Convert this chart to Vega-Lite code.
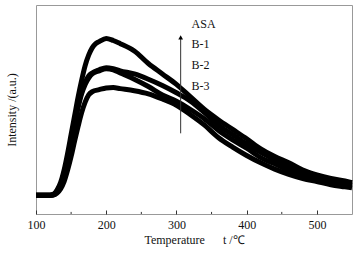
{
  "$schema": "https://vega.github.io/schema/vega-lite/v6.json",
  "width": 316,
  "height": 209,
  "autosize": {"type": "none"},
  "padding": {"left": 36, "top": 5, "right": 8, "bottom": 40},
  "background": "white",
  "config": {
    "view": {"stroke": "#999999", "strokeWidth": 1},
    "font": "Liberation Serif",
    "axis": {"labelFont": "Liberation Serif", "titleFont": "Liberation Serif", "labelColor": "#111", "titleColor": "#111", "titleFontWeight": "normal"}
  },
  "datasets": {
    "curves": [
      {"T":100,"s":"ASA","v":9},{"T":110,"s":"ASA","v":9},{"T":120,"s":"ASA","v":9},{"T":125,"s":"ASA","v":9.5},{"T":130,"s":"ASA","v":11.5},{"T":135,"s":"ASA","v":15},{"T":140,"s":"ASA","v":21},{"T":145,"s":"ASA","v":29},{"T":150,"s":"ASA","v":38},{"T":155,"s":"ASA","v":47},{"T":160,"s":"ASA","v":56},{"T":165,"s":"ASA","v":64},{"T":170,"s":"ASA","v":71},{"T":175,"s":"ASA","v":76},{"T":180,"s":"ASA","v":79.5},{"T":185,"s":"ASA","v":81.5},{"T":190,"s":"ASA","v":82.5},{"T":200,"s":"ASA","v":84},{"T":210,"s":"ASA","v":83},{"T":220,"s":"ASA","v":81.5},{"T":240,"s":"ASA","v":78},{"T":260,"s":"ASA","v":72},{"T":280,"s":"ASA","v":67},{"T":300,"s":"ASA","v":62},{"T":320,"s":"ASA","v":56},{"T":340,"s":"ASA","v":50},{"T":360,"s":"ASA","v":45},{"T":380,"s":"ASA","v":40.5},{"T":400,"s":"ASA","v":36},{"T":420,"s":"ASA","v":31.2},{"T":440,"s":"ASA","v":27.5},{"T":460,"s":"ASA","v":24.5},{"T":480,"s":"ASA","v":21},{"T":500,"s":"ASA","v":18.7},{"T":520,"s":"ASA","v":17},{"T":540,"s":"ASA","v":15.8},{"T":550,"s":"ASA","v":15},
      {"T":100,"s":"B-1","v":9},{"T":110,"s":"B-1","v":9},{"T":120,"s":"B-1","v":9},{"T":125,"s":"B-1","v":9.3},{"T":130,"s":"B-1","v":11},{"T":135,"s":"B-1","v":14},{"T":140,"s":"B-1","v":19.5},{"T":145,"s":"B-1","v":27},{"T":150,"s":"B-1","v":35.5},{"T":155,"s":"B-1","v":44},{"T":160,"s":"B-1","v":52},{"T":165,"s":"B-1","v":58.5},{"T":170,"s":"B-1","v":63},{"T":175,"s":"B-1","v":66},{"T":180,"s":"B-1","v":67.5},{"T":190,"s":"B-1","v":69},{"T":200,"s":"B-1","v":70},{"T":210,"s":"B-1","v":69.5},{"T":220,"s":"B-1","v":68.5},{"T":240,"s":"B-1","v":67},{"T":260,"s":"B-1","v":64.5},{"T":280,"s":"B-1","v":61.5},{"T":300,"s":"B-1","v":58},{"T":320,"s":"B-1","v":54},{"T":340,"s":"B-1","v":48.5},{"T":360,"s":"B-1","v":42.5},{"T":380,"s":"B-1","v":38},{"T":400,"s":"B-1","v":33.5},{"T":420,"s":"B-1","v":29.5},{"T":440,"s":"B-1","v":26},{"T":460,"s":"B-1","v":22.5},{"T":480,"s":"B-1","v":20},{"T":500,"s":"B-1","v":18},{"T":520,"s":"B-1","v":16},{"T":540,"s":"B-1","v":14.5},{"T":550,"s":"B-1","v":14},
      {"T":100,"s":"B-2","v":9},{"T":110,"s":"B-2","v":9},{"T":120,"s":"B-2","v":9},{"T":125,"s":"B-2","v":9.2},{"T":130,"s":"B-2","v":10.5},{"T":135,"s":"B-2","v":13.5},{"T":140,"s":"B-2","v":18.5},{"T":145,"s":"B-2","v":26},{"T":150,"s":"B-2","v":34.5},{"T":155,"s":"B-2","v":43},{"T":160,"s":"B-2","v":51},{"T":165,"s":"B-2","v":57.5},{"T":170,"s":"B-2","v":62},{"T":175,"s":"B-2","v":65},{"T":180,"s":"B-2","v":67},{"T":190,"s":"B-2","v":68.5},{"T":200,"s":"B-2","v":69.5},{"T":210,"s":"B-2","v":69},{"T":220,"s":"B-2","v":67.5},{"T":240,"s":"B-2","v":64.5},{"T":260,"s":"B-2","v":61},{"T":280,"s":"B-2","v":57},{"T":300,"s":"B-2","v":54},{"T":320,"s":"B-2","v":50},{"T":340,"s":"B-2","v":45.5},{"T":360,"s":"B-2","v":40},{"T":380,"s":"B-2","v":35.5},{"T":400,"s":"B-2","v":31.5},{"T":420,"s":"B-2","v":27},{"T":440,"s":"B-2","v":24},{"T":460,"s":"B-2","v":21},{"T":480,"s":"B-2","v":19},{"T":500,"s":"B-2","v":17},{"T":520,"s":"B-2","v":15.5},{"T":540,"s":"B-2","v":14},{"T":550,"s":"B-2","v":13.5},
      {"T":100,"s":"B-3","v":9},{"T":110,"s":"B-3","v":9},{"T":120,"s":"B-3","v":9},{"T":125,"s":"B-3","v":9.1},{"T":130,"s":"B-3","v":10},{"T":135,"s":"B-3","v":12},{"T":140,"s":"B-3","v":15.5},{"T":145,"s":"B-3","v":21},{"T":150,"s":"B-3","v":27.5},{"T":155,"s":"B-3","v":35},{"T":160,"s":"B-3","v":42},{"T":165,"s":"B-3","v":48.5},{"T":170,"s":"B-3","v":53.5},{"T":175,"s":"B-3","v":57},{"T":180,"s":"B-3","v":58.5},{"T":190,"s":"B-3","v":59.5},{"T":200,"s":"B-3","v":60.3},{"T":210,"s":"B-3","v":60.5},{"T":220,"s":"B-3","v":60},{"T":240,"s":"B-3","v":59},{"T":260,"s":"B-3","v":57.5},{"T":280,"s":"B-3","v":55},{"T":300,"s":"B-3","v":52},{"T":320,"s":"B-3","v":47.5},{"T":340,"s":"B-3","v":42.5},{"T":360,"s":"B-3","v":36.5},{"T":380,"s":"B-3","v":32},{"T":400,"s":"B-3","v":28},{"T":420,"s":"B-3","v":24.5},{"T":440,"s":"B-3","v":21.5},{"T":460,"s":"B-3","v":19},{"T":480,"s":"B-3","v":17},{"T":500,"s":"B-3","v":15.5},{"T":520,"s":"B-3","v":14},{"T":540,"s":"B-3","v":13},{"T":550,"s":"B-3","v":12.5}
    ],
    "labels": [
      {"T":321.5,"v":90.8,"t":"ASA"},
      {"T":321.5,"v":81.3,"t":"B-1"},
      {"T":321.5,"v":71.4,"t":"B-2"},
      {"T":321.5,"v":61.4,"t":"B-3"}
    ],
    "arrow": [{"T":306,"v0":38.6,"v1":84.5}],
    "minor": [{"T":150},{"T":250},{"T":350},{"T":450}]
  },
  "layer": [
    {
      "data": {"name": "curves"},
      "mark": {"type": "line", "color": "black", "strokeWidth": 5, "interpolate": "monotone"},
      "encoding": {
        "x": {"field": "T", "type": "quantitative", "scale": {"domain": [100, 550], "nice": false, "zero": false},
          "axis": {"title": "Temperature\u00a0\u00a0\u00a0\u00a0\u00a0\u00a0t /℃", "values": [100,200,300,400,500],
            "grid": false, "domain": false, "tickSize": -4, "tickColor": "#333", "labelPadding": 9, "labelFontSize": 12, "titleFontSize": 12, "titlePadding": 4, "labelFlush": false}},
        "y": {"field": "v", "type": "quantitative", "scale": {"domain": [0, 100], "nice": false},
          "axis": {"title": "Intensity /(a.u.)", "labels": false, "ticks": false, "grid": false, "domain": false, "titleFontSize": 12, "titlePadding": 18}},
        "detail": {"field": "s"}
      }
    },
    {
      "data": {"name": "minor"},
      "mark": {"type": "rule", "color": "#333", "strokeWidth": 1},
      "encoding": {
        "x": {"field": "T", "type": "quantitative"},
        "y": {"datum": 0, "type": "quantitative"},
        "y2": {"datum": 1}
      }
    },
    {
      "data": {"name": "arrow"},
      "mark": {"type": "rule", "color": "#333", "strokeWidth": 1},
      "encoding": {
        "x": {"field": "T", "type": "quantitative"},
        "y": {"field": "v0", "type": "quantitative"},
        "y2": {"field": "v1"}
      }
    },
    {
      "data": {"name": "arrow"},
      "mark": {"type": "point", "shape": "triangle-up", "filled": true, "color": "black", "size": 22, "opacity": 1},
      "encoding": {
        "x": {"field": "T", "type": "quantitative"},
        "y": {"field": "v1", "type": "quantitative"}
      }
    },
    {
      "data": {"name": "labels"},
      "mark": {"type": "text", "align": "left", "baseline": "middle", "fontSize": 12, "font": "Liberation Serif", "color": "#111"},
      "encoding": {
        "x": {"field": "T", "type": "quantitative"},
        "y": {"field": "v", "type": "quantitative"},
        "text": {"field": "t"}
      }
    }
  ]
}
